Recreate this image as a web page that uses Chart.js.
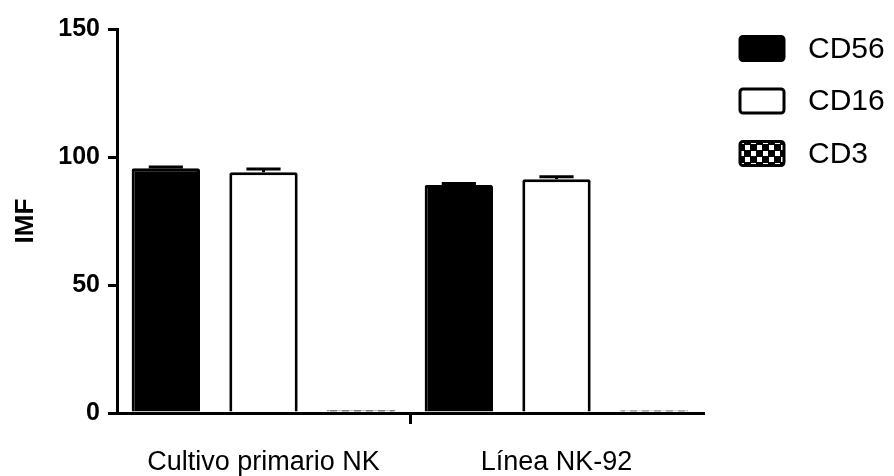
<!DOCTYPE html>
<html>
<head>
<meta charset="utf-8">
<script src="https://cdn.jsdelivr.net/npm/chart.js@4/dist/chart.umd.min.js"></script>
<style>
  html, body { margin: 0; padding: 0; background: #fff; }
  #wrap { width: 894px; height: 476px; }
</style>
</head>
<body>
<div id="wrap"><canvas id="c" width="894" height="476"></canvas></div>
<script>
// Expression of NK markers (mean fluorescence intensity) per cell source
const categories = ['Cultivo primario NK', 'Línea NK-92'];
const seriesNames = ['CD56', 'CD16', 'CD3'];
const cd56 = [95.6, 89.1];
const cd16 = [94.0, 91.3];
const cd3 = [1.2, 1.1];
const cd56Err = [0.5, 0.5];
const cd16Err = [1.3, 1.0];
const cd3Err = [0, 0];
const yTicks = [0, 50, 100, 150];

const FONT = "'Liberation Sans', Arial, Helvetica, sans-serif";

// black tile with white squares for the CD3 fill
function checkerPattern() {
  const t = document.createElement('canvas');
  t.width = 12; t.height = 12;
  const g = t.getContext('2d');
  g.fillStyle = '#000';
  g.fillRect(0, 0, 12, 12);
  g.fillStyle = '#fff';
  g.fillRect(1, 1, 5, 5);
  g.fillRect(7, 7, 5, 5);
  return g.createPattern(t, 'repeat');
}
const pattern = checkerPattern();

// upper error whiskers with a short cap
const errorBars = {
  id: 'errorBars',
  afterDatasetsDraw(chart) {
    const ctx = chart.ctx;
    const y = chart.scales.y;
    ctx.save();
    ctx.strokeStyle = '#000';
    ctx.lineWidth = 3;
    chart.data.datasets.forEach((ds, di) => {
      const meta = chart.getDatasetMeta(di);
      meta.data.forEach((bar, i) => {
        const v = ds.data[i];
        const e = ds.errors[i];
        if (!e) return;
        const yTop = y.getPixelForValue(v + e);
        const yBase = y.getPixelForValue(v);
        const half = bar.width * 0.25;
        ctx.beginPath();
        ctx.moveTo(bar.x, yBase);
        ctx.lineTo(bar.x, yTop);
        ctx.moveTo(bar.x - half, yTop);
        ctx.lineTo(bar.x + half, yTop);
        ctx.stroke();
      });
    });
    ctx.restore();
  }
};

// legend on the right, one row per dataset
const sideLegend = {
  id: 'sideLegend',
  afterDraw(chart) {
    const ctx = chart.ctx;
    const x0 = 740, w = 44, h = 24, rowGap = 52.5, y0 = 48.5;
    ctx.save();
    chart.data.datasets.forEach((ds, i) => {
      const cy = y0 + i * rowGap;
      ctx.beginPath();
      ctx.roundRect(x0, cy - h / 2, w, h, 3);
      ctx.fillStyle = ds.backgroundColor;
      ctx.fill();
      ctx.lineWidth = 3;
      ctx.strokeStyle = '#000';
      ctx.stroke();
      ctx.fillStyle = '#000';
      ctx.font = '30px ' + FONT;
      ctx.textBaseline = 'middle';
      ctx.textAlign = 'left';
      ctx.fillText(ds.label, 808, cy + 1);
    });
    ctx.restore();
  }
};

const chart = new Chart(document.getElementById('c'), {
  type: 'bar',
  data: {
    labels: categories,
    datasets: [
      { label: seriesNames[0], data: cd56, errors: cd56Err, backgroundColor: '#000', borderColor: '#000', borderWidth: 3, borderRadius: 2 },
      { label: seriesNames[1], data: cd16, errors: cd16Err, backgroundColor: '#fff', borderColor: '#000', borderWidth: 3, borderRadius: 2 },
      { label: seriesNames[2], data: cd3, errors: cd3Err, backgroundColor: pattern, borderColor: '#8a8a8a', borderWidth: 2 }
    ]
  },
  options: {
    responsive: false,
    animation: false,
    devicePixelRatio: 1,
    layout: { padding: { left: 0, top: 29, right: 191, bottom: 0 } },
    datasets: { bar: { categoryPercentage: 1.0, barPercentage: 0.70 } },
    plugins: { legend: { display: false }, tooltip: { enabled: false } },
    scales: {
      x: {
        afterFit(s) { s.height = 63; },
        border: { display: true, color: '#000', width: 3 },
        grid: {
          drawOnChartArea: false,
          drawTicks: true,
          tickLength: 11,
          lineWidth: 3,
          color: (c) => (c.index === 1 ? '#000' : 'rgba(0,0,0,0)')
        },
        ticks: { color: '#000', font: { family: FONT, size: 27 }, padding: 22, maxRotation: 0 }
      },
      y: {
        min: 0,
        max: 150,
        afterFit(s) { s.width = 117; },
        afterBuildTicks(s) { s.ticks = yTicks.map(v => ({ value: v })); },
        border: { display: true, color: '#000', width: 3 },
        grid: { drawOnChartArea: false, drawTicks: true, tickLength: 9, lineWidth: 3, color: '#000' },
        ticks: { color: '#000', font: { family: FONT, size: 25, weight: 'bold' }, padding: 8 },
        title: {
          display: true,
          text: 'IMF',
          color: '#000',
          font: { family: FONT, size: 26, weight: 'bold' },
          padding: { top: 10, bottom: 0 }
        }
      }
    }
  },
  plugins: [errorBars, sideLegend]
});
</script>
</body>
</html>
